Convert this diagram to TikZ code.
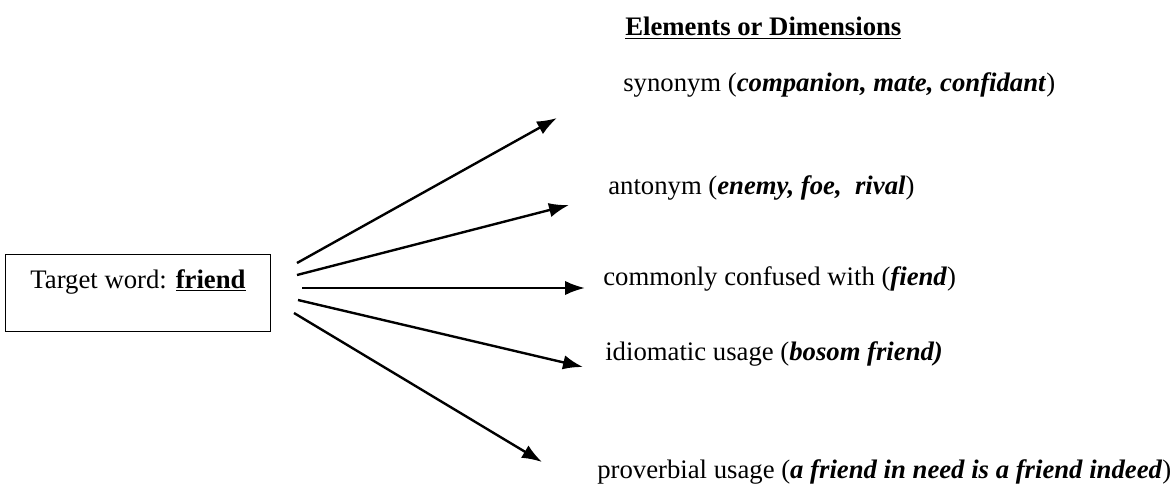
\documentclass[tikz,border=0pt]{standalone}
\usepackage{fontspec}
\setmainfont{Liberation Serif}
\usetikzlibrary{arrows.meta}

\begin{document}
\begin{tikzpicture}[x = 0.025cm, y = -0.025cm,
  font = \fontsize{19}{23}\selectfont,
  Label/.style = {anchor = base west, inner sep = 0pt},
  post/.style = {line width = 1.7pt, -{Latex[length = 0.5cm, width = 0.36cm]}}]
\useasboundingbox (0,0) rectangle (1176,492);
\node[draw, line width = 1.2pt, inner sep = 0pt, minimum width = 6.625cm,
  text height = 0.85cm, text depth = 1.075cm] (target) at (138,293)
  {Target word: \underline{\textbf{friend}}};
\node[Label] (head)  at (625,36)  {\underline{\textbf{Elements or Dimensions}}};
\node[Label] (syn)   at (623,92)  {synonym (\textbf{\textit{companion, mate, confidant}})};
\node[Label] (ant)   at (608,195) {antonym (\textbf{\textit{enemy, foe,\ \ rival}})};
\node[Label] (conf)  at (603,285) {commonly confused with (\textbf{\textit{fiend}})};
\node[Label] (idiom) at (605,360) {idiomatic usage (\textbf{\textit{bosom friend)}}};
\node[Label] (prov)  at (597,478) {proverbial usage (\textbf{\textit{a friend in need is a friend indeed}})};
\coordinate (s1) at (297,263);
\coordinate (s2) at (297,275);
\coordinate (s3) at (302,288);
\coordinate (s4) at (298,300);
\coordinate (s5) at (294,313);
\coordinate (e1) at (557,118);
\coordinate (e2) at (569,205);
\coordinate (e3) at (585,288);
\coordinate (e4) at (583,367);
\coordinate (e5) at (542,462);
\draw[post] (s1) -- (e1);
\draw[post] (s2) -- (e2);
\draw[post] (s3) -- (e3);
\draw[post] (s4) -- (e4);
\draw[post] (s5) -- (e5);
\end{tikzpicture}
\end{document}
